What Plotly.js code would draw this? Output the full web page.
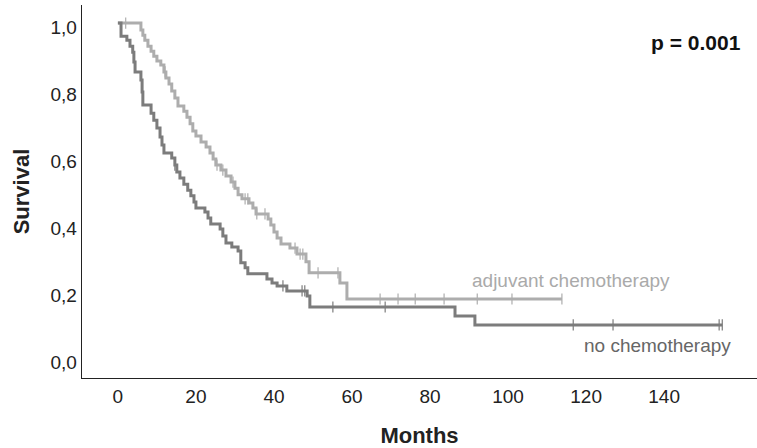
<!DOCTYPE html>
<html>
<head>
<meta charset="utf-8">
<script src="https://cdn.plot.ly/plotly-3.0.1.min.js"></script>
<style>html,body{margin:0;padding:0;background:#fff}#chart{width:757px;height:448px}</style>
</head>
<body>
<div id="chart"></div>
<script>
// Kaplan-Meier step data (months, survival)
var adjTime = [0, 5.9, 6.4, 6.9, 7.7, 8.5, 9.2, 10.0, 11.0, 11.8, 12.3, 13.1, 13.8, 14.6, 15.4, 16.9, 17.7, 18.5, 19.2, 20.0, 21.3, 22.6, 23.6, 24.4, 25.1, 26.4, 27.7, 29.0, 30.0, 30.8, 31.8, 33.6, 34.6, 35.4, 38.5, 39.2, 40.0, 40.8, 41.8, 44.1, 45.9, 48.2, 49.0, 56.9, 58.7, 113.8];
var adjSurv = [1.0, 0.979, 0.964, 0.949, 0.931, 0.916, 0.901, 0.887, 0.875, 0.854, 0.836, 0.818, 0.797, 0.776, 0.752, 0.737, 0.719, 0.699, 0.678, 0.663, 0.645, 0.630, 0.612, 0.594, 0.576, 0.561, 0.543, 0.525, 0.507, 0.487, 0.475, 0.463, 0.448, 0.430, 0.415, 0.397, 0.376, 0.358, 0.340, 0.328, 0.310, 0.287, 0.254, 0.224, 0.176, 0.176];
var adjCensored = [2.0, 12.1, 25.4, 26.9, 29.5, 32.6, 33.3, 35.6, 37.7, 45.4, 46.7, 47.4, 51.3, 56.4, 67.2, 71.8, 76.2, 83.6, 92.1, 101.0, 113.8];

var noTime = [0, 0.8, 2.3, 3.1, 3.8, 4.1, 4.4, 5.9, 6.2, 6.4, 8.5, 9.2, 10.0, 10.8, 11.3, 11.8, 13.8, 14.6, 15.1, 15.9, 16.9, 17.9, 18.7, 19.5, 20.0, 22.3, 23.1, 23.8, 26.2, 26.9, 27.7, 29.2, 30.8, 31.5, 32.6, 33.3, 38.2, 39.5, 40.8, 43.3, 48.5, 49.2, 86.4, 91.5, 154.9];
var noSurv = [1.0, 0.961, 0.949, 0.931, 0.913, 0.884, 0.854, 0.830, 0.794, 0.755, 0.731, 0.710, 0.687, 0.660, 0.636, 0.612, 0.597, 0.576, 0.555, 0.537, 0.519, 0.501, 0.484, 0.466, 0.448, 0.436, 0.418, 0.400, 0.385, 0.364, 0.343, 0.331, 0.319, 0.284, 0.269, 0.251, 0.236, 0.224, 0.215, 0.200, 0.185, 0.152, 0.125, 0.0985, 0.0985];
var noCensored = [14.6, 42.3, 47.2, 47.9, 55.1, 68.5, 116.7, 126.9, 154.1, 154.9];

var xTicks = [0, 20, 40, 60, 80, 100, 120, 140];
var yTicks = [0, 0.2, 0.4, 0.6, 0.8, 1.0];
var yTickText = ['0,0', '0,2', '0,4', '0,6', '0,8', '1,0'];

var adjColor = '#adadad';
var noColor = '#7c7c7c';
var fam = 'Liberation Sans, Arial, sans-serif';

function stepAt(times, surv, t) {
  var s = surv[0];
  for (var i = 0; i < times.length; i++) { if (times[i] <= t) s = surv[i]; }
  return s;
}
function censorY(times, surv, cens) { return cens.map(function (t) { return stepAt(times, surv, t); }); }

var traces = [
  {x: adjTime, y: adjSurv, type: 'scatter', mode: 'lines', line: {shape: 'hv', color: adjColor, width: 3}, showlegend: false},
  {x: adjCensored, y: censorY(adjTime, adjSurv, adjCensored), type: 'scatter', mode: 'markers', marker: {symbol: 'line-ns', size: 8, line: {color: adjColor, width: 1.2}}, showlegend: false},
  {x: noTime, y: noSurv, type: 'scatter', mode: 'lines', line: {shape: 'hv', color: noColor, width: 3}, showlegend: false},
  {x: noCensored, y: censorY(noTime, noSurv, noCensored), type: 'scatter', mode: 'markers', marker: {symbol: 'line-ns', size: 8, line: {color: noColor, width: 1.2}}, showlegend: false}
];

var layout = {
  width: 757, height: 448,
  margin: {l: 82, r: 0, t: 5, b: 70},
  paper_bgcolor: '#fff', plot_bgcolor: '#fff',
  font: {family: fam, size: 19, color: '#222'},
  xaxis: {
    range: [-9.2, 163.8], tickvals: xTicks, ticktext: xTicks.map(String),
    showgrid: false, zeroline: false, showline: true, linecolor: '#222', linewidth: 1.3,
    ticks: '', tickfont: {family: fam, size: 19, color: '#222'}, ticklabelstandoff: 1,
    title: {text: '<b>Months</b>', font: {family: fam, size: 22, color: '#222'}, standoff: 22}
  },
  yaxis: {
    range: [-0.06, 1.054], tickvals: yTicks, ticktext: yTickText,
    showgrid: false, zeroline: false, showline: true, linecolor: '#222', linewidth: 1.3,
    ticks: '', tickfont: {family: fam, size: 19, color: '#222'}, ticklabelshift: 4,
    title: {text: '<b>Survival</b>', font: {family: fam, size: 22, color: '#222'}, standoff: 14}
  },
  annotations: [
    {x: 116.2, y: 0.23, xref: 'x', yref: 'y', text: 'adjuvant chemotherapy', showarrow: false, font: {family: fam, size: 19, color: '#aaaaaa'}},
    {x: 138.3, y: 0.036, xref: 'x', yref: 'y', text: 'no chemotherapy', showarrow: false, font: {family: fam, size: 19, color: '#666666'}},
    {x: 148.2, y: 0.943, xref: 'x', yref: 'y', text: '<b>p = 0.001</b>', showarrow: false, font: {family: fam, size: 21, color: '#111'}}
  ]
};

Plotly.newPlot('chart', traces, layout, {displayModeBar: false, staticPlot: true});
</script>
</body>
</html>
